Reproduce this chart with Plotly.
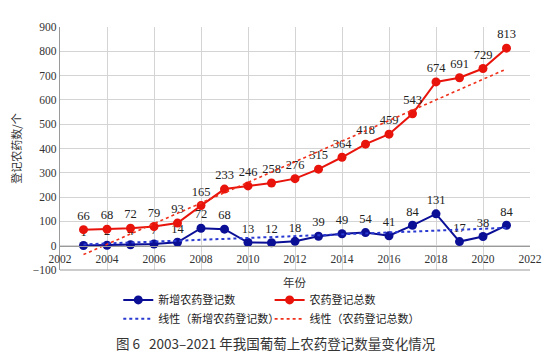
import numpy as np
import plotly.graph_objects as go

years = [2003, 2004, 2005, 2006, 2007, 2008, 2009, 2010, 2011, 2012,
         2013, 2014, 2015, 2016, 2017, 2018, 2019, 2020, 2021]
new_reg = [1, 2, 4, 7, 14, 72, 68, 13, 12, 18, 39, 49, 54, 41, 84, 131, 17, 38, 84]
total_reg = [66, 68, 72, 79, 93, 165, 233, 246, 258, 276, 315, 364, 418, 459,
             543, 674, 691, 729, 813]

name_new = "新增农药登记数"
name_total = "农药登记总数"
name_new_trend = "线性（新增农药登记数）"
name_total_trend = "线性（农药登记总数）"
x_title = "年份"
y_title = "登记农药数/个"
caption = "图 6   2003–2021 年我国葡萄上农药登记数量变化情况"

BLUE = "#0b0f96"
RED = "#e8140c"
SERIF = "Liberation Serif"
CJK = "Noto Sans CJK SC"

xa = np.array(years, dtype=float)
fit_new = np.polyval(np.polyfit(xa, new_reg, 1), xa)
fit_total = np.polyval(np.polyfit(xa, total_reg, 1), xa)

fig = go.Figure()
fig.add_trace(go.Scatter(
    x=years, y=new_reg, name=name_new, mode="lines+markers+text", legend="legend",
    line=dict(color=BLUE, width=2), marker=dict(color=BLUE, size=9),
    text=[str(v) for v in new_reg], textposition="top center",
    textfont=dict(family=SERIF, size=12.5, color="#222"),
))
fig.add_trace(go.Scatter(
    x=years, y=total_reg, name=name_total, mode="lines+markers+text", legend="legend2",
    line=dict(color=RED, width=2), marker=dict(color=RED, size=9),
    text=[str(v) for v in total_reg], textposition="top center",
    textfont=dict(family=SERIF, size=12.5, color="#222"),
))
fig.add_trace(go.Scatter(
    x=years, y=fit_new, name=name_new_trend, mode="lines", legend="legend3",
    line=dict(color="#2a3ad0", width=2, dash="dot"), hoverinfo="skip",
))
fig.add_trace(go.Scatter(
    x=years, y=fit_total, name=name_total_trend, mode="lines", legend="legend4",
    line=dict(color="#f0301a", width=1.6, dash="dot"), hoverinfo="skip",
))

leg_common = dict(orientation="h", xanchor="left", yanchor="middle",
                  font=dict(family=CJK, size=11, color="#222"),
                  itemwidth=30, bgcolor="rgba(0,0,0,0)")
fig.update_layout(
    width=546, height=350,
    margin=dict(l=52, r=24, t=19, b=88, autoexpand=False),
    paper_bgcolor="white", plot_bgcolor="white",
    showlegend=True,
    legend=dict(x=0.124, y=-0.123, **leg_common),
    legend2=dict(x=0.446, y=-0.123, **leg_common),
    legend3=dict(x=0.124, y=-0.201, **leg_common),
    legend4=dict(x=0.446, y=-0.201, **leg_common),
    font=dict(family=SERIF, size=12, color="#333"),
)
fig.update_xaxes(
    range=[2002, 2022], tickmode="linear", tick0=2002, dtick=2,
    showgrid=True, gridcolor="#d4d4d4", gridwidth=1,
    showline=True, linecolor="#9a9a9a", linewidth=1.2,
    ticks="", anchor="free", position=0.1, ticklabelstandoff=2,
    tickfont=dict(family=SERIF, size=11.5, color="#333"),
    zeroline=False,
)
fig.update_yaxes(
    range=[-100, 900], tickmode="linear", tick0=-100, dtick=100,
    showgrid=True, gridcolor="#d4d4d4", gridwidth=1,
    showline=True, linecolor="#9a9a9a", linewidth=1.2,
    ticks="", zeroline=False,
    tickfont=dict(family=SERIF, size=11.5, color="#333"),
    title=dict(text=y_title, font=dict(family=CJK, size=11, color="#333"), standoff=12),
)
fig.add_shape(type="line", xref="paper", yref="paper", x0=0, x1=1, y0=0, y1=0,
              line=dict(color="#9a9a9a", width=1.2))
fig.add_annotation(text=x_title, xref="paper", yref="paper", x=0.5, y=-0.008,
                   xanchor="center", yanchor="top", showarrow=False,
                   font=dict(family=CJK, size=11.5, color="#333"))
fig.add_annotation(text=caption, xref="paper", yref="paper", x=0.46, y=-0.25,
                   xanchor="center", yanchor="top", showarrow=False,
                   font=dict(family=CJK, size=13.5, color="#333"))

fig.write_html("out.html")
